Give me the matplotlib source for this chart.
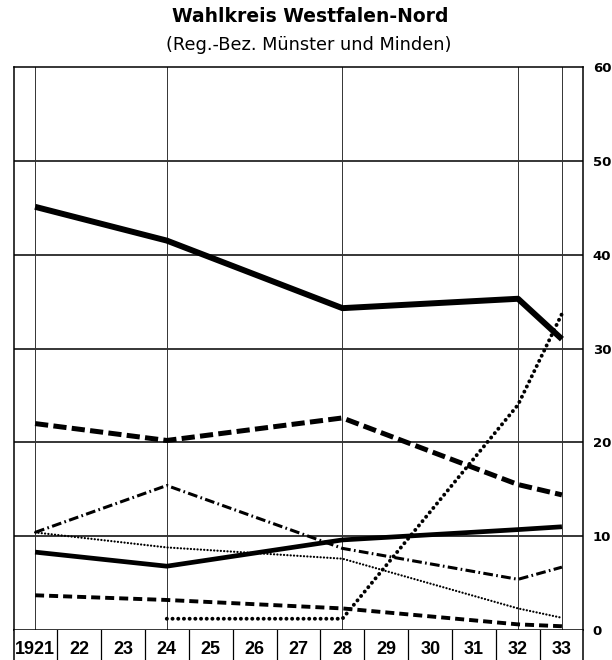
import matplotlib
matplotlib.use("Agg")
import matplotlib.pyplot as plt
import numpy as np

plt.rcParams["font.family"] = ["Liberation Sans", "DejaVu Sans"]
plt.rcParams["lines.scale_dashes"] = False

# -----------------------------------------------------------------------------
# Data (vote shares in %)
# -----------------------------------------------------------------------------
years = [1921, 1924, 1928, 1932, 1933]
zentrum = [45.1, 41.5, 34.3, 35.3, 31.0]
spd = [22.0, 20.2, 22.6, 15.5, 14.4]
kpd = [10.4, 15.4, 8.7, 5.4, 6.7]
dnvp = [8.3, 6.8, 9.6, 10.7, 11.0]
dvp = [10.4, 8.8, 7.6, 2.3, 1.3]
ddp = [3.7, 3.2, 2.3, 0.6, 0.4]
nsdap_years = [1924, 1928, 1932, 1933]
nsdap = [1.2, 1.2, 24.0, 33.7]

label_years = list(range(1921, 1934))
label_text = ["1921"] + [str(y)[2:] for y in label_years[1:]]
grid_years = [1921, 1924, 1928, 1932, 1933]
y_ticks = [0, 10, 20, 30, 40, 50, 60]

TITLE = "Wahlkreis Westfalen-Nord"
SUBTITLE = "(Reg.-Bez. Münster und Minden)"

# -----------------------------------------------------------------------------
# Layout (pixel based, 612 x 660 @ 100 dpi)
# -----------------------------------------------------------------------------
W, H = 612, 660
px_left, px_right, px_top, px_bottom = 14, 583, 67, 630
strip_h = 30

fig = plt.figure(figsize=(W / 100, H / 100), dpi=100)
ax = fig.add_axes([px_left / W, (H - px_bottom) / H,
                   (px_right - px_left) / W, (px_bottom - px_top) / H])
xlim = (1920.52, 1933.48)
ax.set_xlim(*xlim)
ax.set_ylim(0, 60)

for s in ax.spines.values():
    s.set_linewidth(1.1)
ax.yaxis.tick_right()
ax.set_yticks(y_ticks)
ax.set_yticklabels([str(v) for v in y_ticks], fontsize=9.5, fontweight="bold",
                   family="DejaVu Sans")
ax.tick_params(axis="y", length=0, pad=7)
ax.set_xticks([])

for v in y_ticks[1:-1]:
    ax.axhline(v, color="black", lw=1.1, zorder=1)
for yr in grid_years:
    ax.axvline(yr, color="#333333", lw=0.7, zorder=1)

# series
ax.plot(years, zentrum, color="black", lw=4.3, solid_capstyle="butt", zorder=3)
ax.plot(years, dnvp, color="black", lw=3.4, solid_capstyle="butt", zorder=3)
ax.plot(years, spd, color="black", lw=3.6, dashes=(9.5, 3.8),
        dash_capstyle="butt", zorder=3)
ax.plot(years, ddp, color="black", lw=2.8, dashes=(6.5, 3.6),
        dash_capstyle="butt", zorder=3)
ax.plot(years, kpd, color="black", lw=2.2, dashes=(7, 2.4, 1.2, 2.4),
        dash_capstyle="butt", zorder=3)
ax.plot(years, dvp, color="black", lw=1.6, dashes=(0.1, 2.3),
        dash_capstyle="round", zorder=3)
ax.plot(nsdap_years, nsdap, color="black", lw=2.8, dashes=(0.1, 4.0),
        dash_capstyle="round", zorder=3)

# year label strip under the plot
axl = fig.add_axes([px_left / W, (H - px_bottom - strip_h) / H,
                    (px_right - px_left) / W, strip_h / H])
axl.set_xlim(*xlim)
axl.set_ylim(0, 1)
axl.set_xticks([])
axl.set_yticks([])
for side in ("top", "bottom"):
    axl.spines[side].set_visible(False)
for side in ("left", "right"):
    axl.spines[side].set_linewidth(1.1)
for yr in label_years[:-1]:
    axl.axvline(yr + 0.5, color="black", lw=0.9)
for yr, txt in zip(label_years, label_text):
    axl.text(yr, 0.36, txt, ha="center", va="center",
             fontsize=13, fontweight="bold")

fig.text(310 / W, 1 - 17 / H, TITLE, ha="center", va="center",
         fontsize=13.5, fontweight="bold", family="DejaVu Sans")
fig.text(309 / W, 1 - 45 / H, SUBTITLE, ha="center", va="center",
         fontsize=12.8, family="DejaVu Sans")

fig.savefig("out.png", dpi=100, facecolor="white")
